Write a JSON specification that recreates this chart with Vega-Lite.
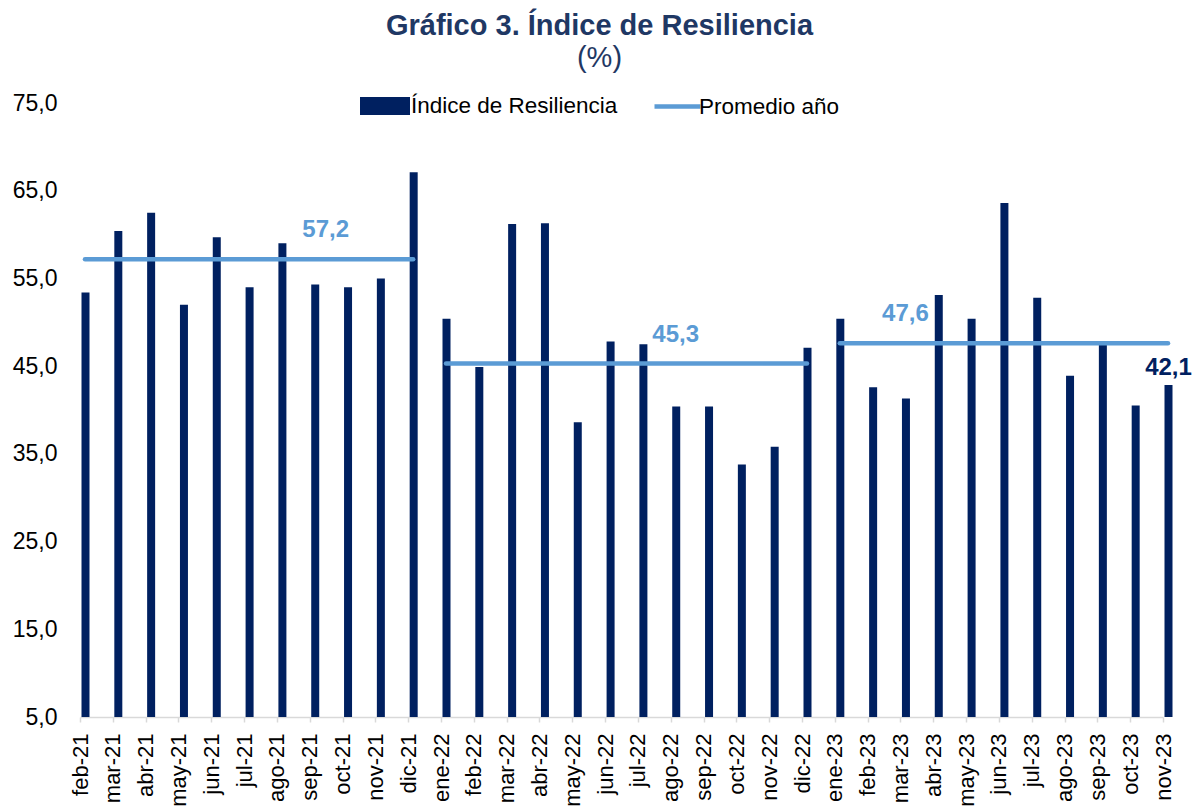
{
  "$schema": "https://vega.github.io/schema/vega-lite/v6.json",
  "width": 1083,
  "height": 614,
  "autosize": "none",
  "padding": {"left": 80, "top": 103, "right": 36, "bottom": 90},
  "background": "white",
  "config": {
    "font": "Liberation Sans",
    "view": {"stroke": null},
    "locale": {"number": {"decimal": ",", "thousands": ".", "grouping": [3], "currency": ["", " €"]}}
  },
  "title": {
    "text": "Gráfico 3. Índice de Resiliencia",
    "subtitle": "(%)",
    "font": "Liberation Sans",
    "fontSize": 29,
    "fontWeight": "bold",
    "color": "#1F3864",
    "subtitleFont": "Liberation Sans",
    "subtitleFontSize": 29,
    "subtitleColor": "#1F3864",
    "subtitlePadding": 3,
    "anchor": "middle",
    "frame": "group",
    "dx": -22,
    "offset": 8
  },
  "datasets": {
    "bars": [
      {"month": "feb-21", "value": 53.4},
      {"month": "mar-21", "value": 60.4},
      {"month": "abr-21", "value": 62.5},
      {"month": "may-21", "value": 52.0},
      {"month": "jun-21", "value": 59.7},
      {"month": "jul-21", "value": 54.0},
      {"month": "ago-21", "value": 59.0},
      {"month": "sep-21", "value": 54.3},
      {"month": "oct-21", "value": 54.0},
      {"month": "nov-21", "value": 55.0},
      {"month": "dic-21", "value": 67.1},
      {"month": "ene-22", "value": 50.4},
      {"month": "feb-22", "value": 44.9},
      {"month": "mar-22", "value": 61.2},
      {"month": "abr-22", "value": 61.3},
      {"month": "may-22", "value": 38.6},
      {"month": "jun-22", "value": 47.8},
      {"month": "jul-22", "value": 47.5},
      {"month": "ago-22", "value": 40.4},
      {"month": "sep-22", "value": 40.4},
      {"month": "oct-22", "value": 33.8},
      {"month": "nov-22", "value": 35.8},
      {"month": "dic-22", "value": 47.1},
      {"month": "ene-23", "value": 50.4},
      {"month": "feb-23", "value": 42.6},
      {"month": "mar-23", "value": 41.3},
      {"month": "abr-23", "value": 53.1},
      {"month": "may-23", "value": 50.4},
      {"month": "jun-23", "value": 63.6},
      {"month": "jul-23", "value": 52.8},
      {"month": "ago-23", "value": 43.9},
      {"month": "sep-23", "value": 47.6},
      {"month": "oct-23", "value": 40.5},
      {"month": "nov-23", "value": 42.85}
    ],
    "avg": [
      {"year": "2021", "start": "feb-21", "end": "dic-21", "avg": 57.2},
      {"year": "2022", "start": "ene-22", "end": "dic-22", "avg": 45.3},
      {"year": "2023", "start": "ene-23", "end": "nov-23", "avg": 47.6}
    ],
    "avgLabel2021": [{"month": "sep-21", "avg": 57.2, "label": "57,2"}],
    "avgLabels": [
      {"month": "ago-22", "avg": 45.3, "label": "45,3"},
      {"month": "mar-23", "avg": 47.6, "label": "47,6"}
    ],
    "lastLabel": [{"month": "nov-23", "value": 42.85, "label": "42,1"}]
  },
  "layer": [
    {
      "data": {"name": "bars"},
      "mark": {"type": "bar", "width": 8, "xOffset": 5.5},
      "encoding": {
        "x": {
          "field": "month",
          "type": "nominal",
          "scale": {
            "type": "point",
            "padding": 0,
            "domain": ["feb-21","mar-21","abr-21","may-21","jun-21","jul-21","ago-21","sep-21","oct-21","nov-21","dic-21",
                       "ene-22","feb-22","mar-22","abr-22","may-22","jun-22","jul-22","ago-22","sep-22","oct-22","nov-22","dic-22",
                       "ene-23","feb-23","mar-23","abr-23","may-23","jun-23","jul-23","ago-23","sep-23","oct-23","nov-23"]
          },
          "axis": {
            "title": null,
            "labelAngle": 270,
            "labelFontSize": 22,
            "labelColor": "#000000",
            "labelPadding": 11,
            "tickSize": 5,
            "tickWidth": 1.5,
            "tickColor": "#D9D9D9",
            "domainColor": "#D9D9D9",
            "domainWidth": 1.5,
            "grid": false
          }
        },
        "y": {
          "field": "value",
          "type": "quantitative",
          "scale": {"domain": [5, 75], "zero": false, "nice": false},
          "axis": {
            "title": null,
            "values": [5, 15, 25, 35, 45, 55, 65, 75],
            "format": ".1f",
            "labelFontSize": 23,
            "labelColor": "#000000",
            "labelPadding": 23,
            "ticks": false,
            "domain": false,
            "grid": false
          }
        },
        "y2": {"datum": 5},
        "fill": {
          "datum": "Índice de Resiliencia",
          "type": "nominal",
          "scale": {"range": ["#002060"]},
          "legend": {
            "orient": "none",
            "legendX": 280,
            "legendY": -22,
            "title": null,
            "padding": 0,
            "symbolType": "M-1,-0.36H1V0.36H-1Z",
            "symbolSize": 2500,
            "symbolStrokeWidth": 0,
            "labelFontSize": 22.5,
            "labelLimit": 500,
            "labelColor": "#000000",
            "labelOffset": 1
          }
        }
      }
    },
    {
      "data": {"name": "avg"},
      "mark": {"type": "rule", "strokeWidth": 4.5, "strokeCap": "round", "xOffset": 5, "x2Offset": 5},
      "encoding": {
        "x": {"field": "start", "type": "nominal"},
        "x2": {"field": "end"},
        "y": {"field": "avg", "type": "quantitative"},
        "stroke": {
          "datum": "Promedio año",
          "type": "nominal",
          "scale": {"range": ["#5B9BD5"]},
          "legend": {
            "orient": "none",
            "legendX": 572,
            "legendY": -22,
            "title": null,
            "padding": 0,
            "symbolType": "stroke",
            "symbolSize": 2116,
            "symbolStrokeWidth": 4.5,
            "labelFontSize": 22.5,
            "labelLimit": 500,
            "labelColor": "#000000",
            "labelOffset": -4
          }
        }
      }
    },
    {
      "data": {"name": "avgLabel2021"},
      "mark": {"type": "text", "dx": 16, "dy": -29, "fontSize": 24, "fontWeight": "bold", "color": "#5B9BD5", "align": "center", "baseline": "middle"},
      "encoding": {
        "x": {"field": "month", "type": "nominal"},
        "y": {"field": "avg", "type": "quantitative"},
        "text": {"field": "label"}
      }
    },
    {
      "data": {"name": "avgLabels"},
      "mark": {"type": "text", "dx": 5, "dy": -29, "fontSize": 24, "fontWeight": "bold", "color": "#5B9BD5", "align": "center", "baseline": "middle"},
      "encoding": {
        "x": {"field": "month", "type": "nominal"},
        "y": {"field": "avg", "type": "quantitative"},
        "text": {"field": "label"}
      }
    },
    {
      "data": {"name": "lastLabel"},
      "mark": {"type": "text", "dx": 5.5, "dy": -17, "fontSize": 24, "fontWeight": "bold", "color": "#002060", "align": "center", "baseline": "middle"},
      "encoding": {
        "x": {"field": "month", "type": "nominal"},
        "y": {"field": "value", "type": "quantitative"},
        "text": {"field": "label"}
      }
    }
  ]
}
